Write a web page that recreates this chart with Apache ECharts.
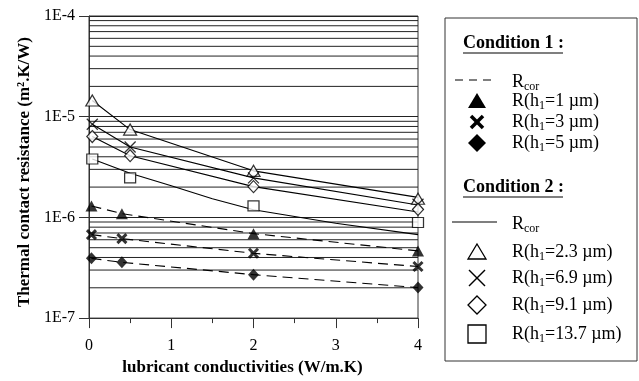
<!DOCTYPE html>
<html>
<head>
<meta charset="utf-8">
<script src="https://cdn.jsdelivr.net/npm/echarts@6/dist/echarts.min.js"></script>
<style>
  html, body { margin: 0; padding: 0; background: #fff; }
  #chart { width: 639px; height: 381px; }
</style>
</head>
<body>
<div id="chart"></div>
<script>
// Lubricant conductivity (W/m.K) at which each resistance was evaluated
const xCond1 = [0.03, 0.4, 2, 4];
const xCond2 = [0.04, 0.5, 2, 4];
const xCurve13 = [0.04, 0.5, 1, 1.5, 2, 3, 4];

// Condition 1 : measured resistances (m².K/W)
const c1H1 = [1.30e-6, 1.09e-6, 6.9e-7, 4.65e-7];
const c1H3 = [6.75e-7, 6.15e-7, 4.4e-7, 3.25e-7];
const c1H5 = [3.92e-7, 3.58e-7, 2.70e-7, 2.01e-7];
// Condition 1 : correlation R_cor
const c1CorH1 = [1.30e-6, 1.09e-6, 6.9e-7, 4.65e-7];
const c1CorH3 = [6.75e-7, 6.15e-7, 4.4e-7, 3.25e-7];
const c1CorH5 = [3.92e-7, 3.58e-7, 2.70e-7, 2.01e-7];

// Condition 2 : measured resistances (m².K/W)
const c2H23 = [1.45e-5, 7.45e-6, 2.9e-6, 1.53e-6];
const c2H69 = [8.4e-6, 5.0e-6, 2.47e-6, 1.35e-6];
const c2H91 = [6.35e-6, 4.1e-6, 2.02e-6, 1.2e-6];
const c2H137 = [3.8e-6, 2.47e-6, 1.3e-6, 8.9e-7];
// Condition 2 : correlation R_cor
const c2CorH23 = [1.45e-5, 7.45e-6, 2.9e-6, 1.58e-6];
const c2CorH69 = [8.4e-6, 5.0e-6, 2.47e-6, 1.33e-6];
const c2CorH91 = [6.35e-6, 4.1e-6, 2.02e-6, 1.13e-6];
const c2CorH137 = [3.8e-6, 2.75e-6, 2.06e-6, 1.53e-6, 1.19e-6, 8.75e-7, 6.74e-7];

// Axis tick labels
const xTickLabels = ['0', '1', '2', '3', '4'];
const yTickLabels = ['1E-7', '1E-6', '1E-5', '1E-4'];
const yDecades = [-7, -6, -5];
const gridMantissas = [2, 3, 4, 5, 6, 7, 8, 9];

const SERIF = 'Liberation Serif, Times New Roman, serif';
const RULE = '#222';
const pts = (xs, ys) => xs.map((x, i) => [x, ys[i]]);

const X_PATH = 'path://M0,0L10,10M10,0L0,10';

// horizontal rules at every 2..9 multiple inside each decade
const gridSeries = [];
yDecades.forEach(d => {
  gridMantissas.forEach(m => {
    const v = m * Math.pow(10, d);
    gridSeries.push({
      type: 'line', data: [[0, v], [4, v]], symbol: 'none', z: 1, silent: true,
      lineStyle: { color: RULE, width: 1 }, emphasis: { disabled: true }
    });
  });
});

function markerSeries(name, data, symbol, size, filled, strokeW) {
  return {
    name, type: 'scatter', data, symbol, symbolSize: size, z: 5,
    itemStyle: filled === 'x'
      ? { color: 'none', borderColor: '#000', borderWidth: strokeW }
      : filled
        ? { color: '#000', borderColor: '#000', borderWidth: 0 }
        : { color: '#fff', borderColor: '#000', borderWidth: strokeW },
    emphasis: { disabled: true }
  };
}
function corSeries(name, data, dashed) {
  return {
    name, type: 'line', data, symbol: 'none', z: 4,
    lineStyle: { color: '#000', width: 1.1, type: dashed ? [10, 6] : 'solid' },
    emphasis: { disabled: true }
  };
}

// legend drawing helpers
const LX = 477;   // legend symbol centre
const TX = 512;   // legend text start
const richBase = {
  n: { fontFamily: SERIF, fontSize: 18, lineHeight: 22, color: '#000' },
  s: { fontFamily: SERIF, fontSize: 12, lineHeight: 12, color: '#000', verticalAlign: 'bottom' }
};
function legendText(y, rich) {
  return { type: 'text', x: TX, y: y, style: { text: rich, rich: richBase, verticalAlign: 'middle', align: 'left' } };
}
function heading(y, txt, w) {
  return [
    { type: 'text', x: 463, y: y, style: { text: txt, fontFamily: SERIF, fontSize: 18, fontWeight: 'bold', fill: '#000', verticalAlign: 'middle' } },
    { type: 'line', shape: { x1: 463, y1: y + 10, x2: 463 + w, y2: y + 10 }, style: { stroke: '#000', lineWidth: 1.2 } }
  ];
}
function tri(cx, cy, filled) {
  return { type: 'polygon', shape: { points: [[cx, cy - 8], [cx + 9, cy + 7], [cx - 9, cy + 7]] },
    style: filled ? { fill: '#000' } : { fill: '#fff', stroke: '#000', lineWidth: 1.3 } };
}
function cross(cx, cy, r, w) {
  return [
    { type: 'line', shape: { x1: cx - r, y1: cy - r, x2: cx + r, y2: cy + r }, style: { stroke: '#000', lineWidth: w } },
    { type: 'line', shape: { x1: cx + r, y1: cy - r, x2: cx - r, y2: cy + r }, style: { stroke: '#000', lineWidth: w } }
  ];
}
function diamond(cx, cy, filled) {
  return { type: 'polygon', shape: { points: [[cx, cy - 9], [cx + 9, cy], [cx, cy + 9], [cx - 9, cy]] },
    style: filled ? { fill: '#000' } : { fill: '#fff', stroke: '#000', lineWidth: 1.3 } };
}

const legendGraphic = [
  { type: 'rect', shape: { x: 445, y: 18, width: 192, height: 343 }, style: { fill: 'none', stroke: '#333', lineWidth: 1 } },
  ...heading(43, 'Condition 1 :', 100),
  { type: 'line', shape: { x1: 455, y1: 80, x2: 497, y2: 80 }, style: { stroke: '#000', lineWidth: 1.1, lineDash: [8, 6] } },
  legendText(82, '{n|R}{s|cor}'),
  tri(LX, 101, true),
  legendText(101, '{n|R(h}{s|1}{n|=1 µm)}'),
  ...cross(LX, 122, 6, 3.5),
  legendText(122, '{n|R(h}{s|1}{n|=3 µm)}'),
  diamond(LX, 143, true),
  legendText(143, '{n|R(h}{s|1}{n|=5 µm)}'),
  ...heading(187, 'Condition 2 :', 100),
  { type: 'line', shape: { x1: 452, y1: 222, x2: 497, y2: 222 }, style: { stroke: '#000', lineWidth: 1.1 } },
  legendText(224, '{n|R}{s|cor}'),
  tri(LX, 252, false),
  legendText(252, '{n|R(h}{s|1}{n|=2.3 µm)}'),
  ...cross(LX, 278, 8, 1.4),
  legendText(278, '{n|R(h}{s|1}{n|=6.9 µm)}'),
  diamond(LX, 305, false),
  legendText(305, '{n|R(h}{s|1}{n|=9.1 µm)}'),
  { type: 'rect', shape: { x: LX - 9, y: 325, width: 18, height: 18 }, style: { fill: '#fff', stroke: '#000', lineWidth: 1.3 } },
  legendText(334, '{n|R(h}{s|1}{n|=13.7 µm)}')
];

const chart = echarts.init(document.getElementById('chart'), null, { renderer: 'canvas' });
chart.setOption({
  animation: false,
  backgroundColor: '#fff',
  grid: { left: 89, right: 221, top: 16, bottom: 56, show: true, borderColor: '#333', borderWidth: 1, containLabel: false },
  xAxis: {
    type: 'value', min: 0, max: 4, interval: 1,
    axisLine: { show: true, lineStyle: { color: '#333', width: 1 } },
    axisTick: { show: true, length: 10, inside: false, lineStyle: { color: '#333' } },
    minorTick: { show: true, splitNumber: 2, length: 5, lineStyle: { color: '#333' } },
    splitLine: { show: false },
    axisLabel: { color: '#000', fontFamily: SERIF, fontSize: 16, margin: 20,
      formatter: v => xTickLabels[Math.round(v)] },
    name: 'lubricant conductivities (W/m.K)', nameLocation: 'middle', nameGap: 39,
    nameTextStyle: { color: '#000', fontFamily: SERIF, fontSize: 17, fontWeight: 'bold', padding: [0, 22, 0, 0] }
  },
  yAxis: {
    type: 'log', logBase: 10, min: 1e-7, max: 1e-4,
    axisLine: { show: true, lineStyle: { color: '#333', width: 1 } },
    axisTick: { show: true, length: 10, inside: false, lineStyle: { color: '#333' } },
    splitLine: { show: true, lineStyle: { color: RULE, width: 1 } },
    axisLabel: { color: '#000', fontFamily: SERIF, fontSize: 16, margin: 14,
      formatter: v => yTickLabels[Math.round(Math.log10(v)) + 7] },
    name: 'Thermal contact resistance (m².K/W)', nameLocation: 'middle', nameGap: 54, nameRotate: 90,
    nameTextStyle: { color: '#000', fontFamily: SERIF, fontSize: 17, fontWeight: 'bold', padding: [0, 10, 0, 0] }
  },
  graphic: legendGraphic,
  series: [
    ...gridSeries,
    corSeries('R_cor c1 h1', pts(xCond1, c1CorH1), true),
    corSeries('R_cor c1 h3', pts(xCond1, c1CorH3), true),
    corSeries('R_cor c1 h5', pts(xCond1, c1CorH5), true),
    corSeries('R_cor c2 h2.3', pts(xCond2, c2CorH23), false),
    corSeries('R_cor c2 h6.9', pts(xCond2, c2CorH69), false),
    corSeries('R_cor c2 h9.1', pts(xCond2, c2CorH91), false),
    corSeries('R_cor c2 h13.7', pts(xCurve13, c2CorH137), false),
    markerSeries('R(h1=1 µm)', pts(xCond1, c1H1), 'triangle', [12, 11], true, 0),
    markerSeries('R(h1=3 µm)', pts(xCond1, c1H3), X_PATH, 9, 'x', 3),
    markerSeries('R(h1=5 µm)', pts(xCond1, c1H5), 'diamond', [11, 12], true, 0),
    markerSeries('R(h1=2.3 µm)', pts(xCond2, c2H23), 'triangle', [13, 11], false, 1.2),
    markerSeries('R(h1=6.9 µm)', pts(xCond2, c2H69), X_PATH, 11, 'x', 1.3),
    markerSeries('R(h1=9.1 µm)', pts(xCond2, c2H91), 'diamond', [11, 12], false, 1.2),
    markerSeries('R(h1=13.7 µm)', pts(xCond2, c2H137), 'rect', [11, 10], false, 1.2)
  ]
});
</script>
</body>
</html>
